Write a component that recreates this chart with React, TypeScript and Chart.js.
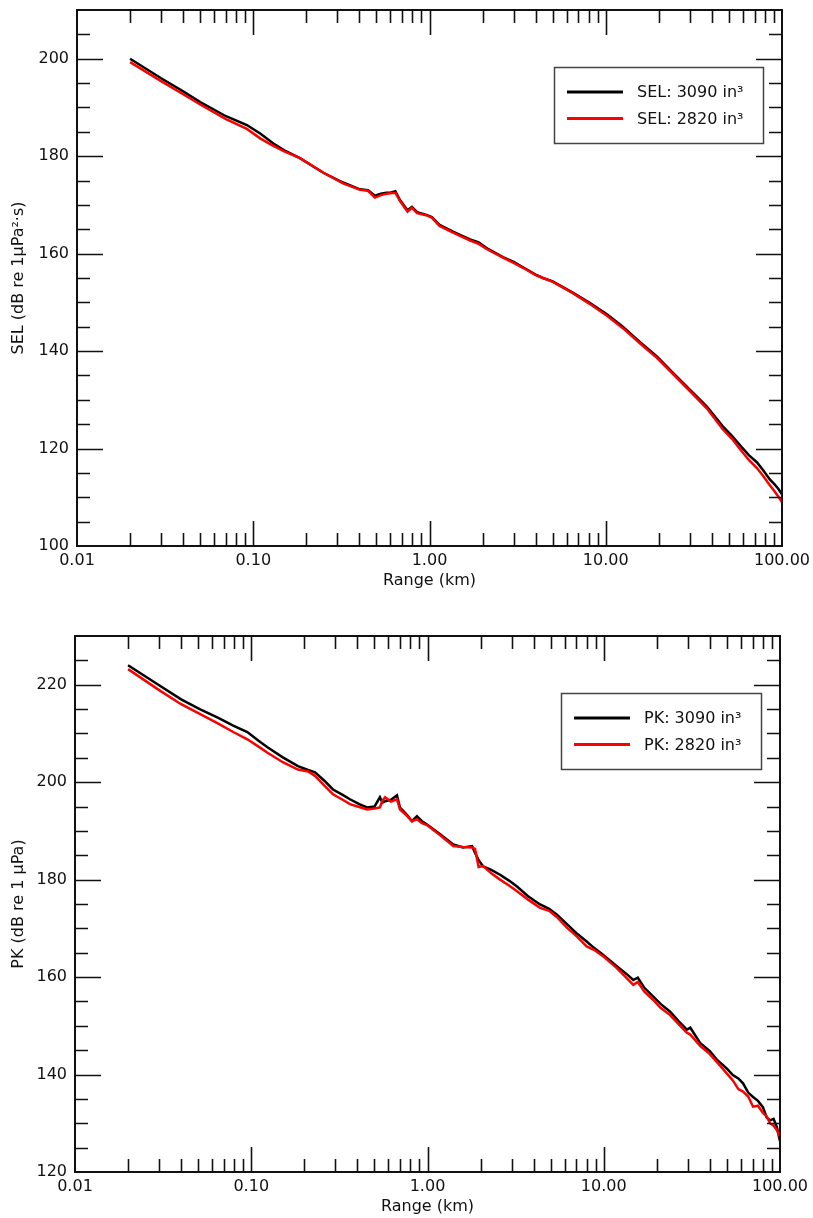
import React, { useEffect, useRef } from 'react';
import { Chart, registerables } from 'chart.js';

Chart.register(...registerables);

// ---------- data ----------
const selRange = [
  0.02, 0.03, 0.04, 0.05, 0.07, 0.092, 0.11, 0.13, 0.15, 0.184, 0.25, 0.323, 0.403, 0.448,
  0.49, 0.53, 0.57, 0.6, 0.64, 0.68, 0.75, 0.795, 0.85, 0.97, 1.03, 1.14, 1.36, 1.5, 1.7,
  1.9, 2.12, 2.61, 3.0, 3.39, 4.0, 4.4, 5.0, 6.5, 8.1, 10.2, 12.5, 15.6, 19.5, 24, 30,
  37.5, 46, 52, 58, 65, 72, 78, 85.5, 90, 95, 100,
];
const sel3090 = [
  200.0, 196.0, 193.3, 191.1, 188.2, 186.4, 184.6, 182.6, 181.2, 179.6, 176.6, 174.6, 173.2, 173.0,
  171.9, 172.3, 172.5, 172.5, 172.8, 171.0, 168.9, 169.6, 168.5, 167.9, 167.5, 165.9, 164.5, 163.8, 162.9,
  162.3, 161.1, 159.3, 158.3, 157.2, 155.7, 155.0, 154.3, 152.0, 149.9, 147.5, 145.0, 141.9, 138.9, 135.6, 132.1,
  128.6, 124.6, 122.6, 120.6, 118.6, 117.2, 115.6, 113.6, 112.8, 111.8, 110.6,
];
const sel2820 = [
  199.3, 195.4, 192.7, 190.6, 187.6, 185.6, 183.6, 182.1, 181.0, 179.6, 176.6, 174.4, 173.1, 172.9,
  171.5, 172.0, 172.3, 172.4, 172.5, 170.8, 168.6, 169.4, 168.3, 167.8, 167.4, 165.7, 164.3, 163.6, 162.7,
  162.0, 160.9, 159.2, 158.1, 157.1, 155.6, 155.0, 154.2, 151.9, 149.7, 147.2, 144.7, 141.6, 138.6, 135.3, 131.8,
  128.2, 124.0, 122.0, 119.8, 117.6, 116.0, 114.4, 112.4, 111.4, 110.2, 109.0,
];

const pkRange = [
  0.02, 0.03, 0.04, 0.051, 0.065, 0.079, 0.095, 0.11, 0.123, 0.151, 0.184, 0.21, 0.23, 0.26,
  0.291, 0.33, 0.363, 0.41, 0.454, 0.5, 0.537, 0.555, 0.575, 0.62, 0.671, 0.698, 0.76, 0.816,
  0.871, 0.93, 0.993, 1.18, 1.4, 1.59, 1.79, 1.86, 1.95, 2.07, 2.3, 2.58, 2.9, 3.22, 3.72,
  4.35, 4.9, 5.43, 6.2, 7.0, 8.0, 8.8, 9.9, 11.9, 13.5, 14.7, 15.6, 17, 19.1, 21, 23.8, 26.5,
  29.6, 31, 35.2, 40, 44, 50, 54, 58, 61.7, 66, 70.3, 75, 80, 84, 87.8, 92, 96, 100,
];
const pk3090 = [
  224.0, 219.9, 217.0, 215.0, 213.2, 211.6, 210.3, 208.5, 207.2, 205.1, 203.3, 202.5, 202.0, 200.3,
  198.5, 197.4, 196.5, 195.5, 194.8, 195.0, 196.9, 195.8, 196.1, 196.4, 197.3, 194.8, 193.4, 192.0,
  193.0, 192.0, 191.3, 189.3, 187.2, 186.6, 186.9, 185.5, 184.0, 182.7, 182.0, 181.0, 179.8, 178.6, 176.6,
  174.9, 174.0, 172.8, 170.8, 169.0, 167.3, 166.0, 164.6, 162.2, 160.6, 159.4, 159.9, 157.8, 156.0, 154.5, 152.9, 151.0,
  149.2, 149.6, 146.5, 144.8, 143.0, 141.2, 139.9, 139.2, 138.2, 136.3, 135.4, 134.6, 133.3, 131.2, 130.6, 130.9, 129.2, 126.3,
];
const pk2820 = [
  223.2, 218.9, 216.0, 214.0, 212.0, 210.3, 208.8, 207.3, 206.1, 204.1, 202.6, 202.2, 201.3, 199.3,
  197.5, 196.4, 195.5, 194.9, 194.4, 194.6, 194.8, 196.2, 196.9, 196.0, 196.5, 194.4, 193.2, 192.0,
  192.4, 191.6, 191.2, 189.1, 186.9, 186.7, 186.6, 186.3, 182.6, 182.8, 181.3, 180.0, 178.8, 177.6, 175.9,
  174.2, 173.6, 172.3, 170.1, 168.4, 166.3, 165.6, 164.3, 161.8, 159.8, 158.4, 159.0, 157.0, 155.3, 153.7, 152.2, 150.4,
  148.6, 148.2, 145.9, 144.2, 142.5, 140.2, 138.8, 137.0, 136.5, 135.5, 133.4, 133.6, 132.1, 131.4, 130.0, 129.5, 128.6, 127.2,
];

const xTickValues = [0.01, 0.1, 1, 10, 100];
const xTickLabels = ['0.01', '0.10', '1.00', '10.00', '100.00'];
const selYTicks = [100, 120, 140, 160, 180, 200];
const pkYTicks = [120, 140, 160, 180, 200, 220];

const FONT = "'DejaVu Sans', sans-serif";

// ---------- plugins ----------
const framePlugin = {
  id: 'frameTicks',
  afterDatasetsDraw(chart: any) {
    const { ctx, chartArea, scales } = chart;
    const { left, right, top, bottom } = chartArea;
    const x = scales.x;
    const y = scales.y;
    ctx.save();
    ctx.strokeStyle = '#111';
    ctx.lineWidth = 1.6;
    ctx.beginPath();
    for (let d = 0.01; d < 150; d *= 10) {
      for (let m = 1; m <= 9; m++) {
        const v = d * m;
        if (v > 100.0001) break;
        const px = Math.round(x.getPixelForValue(v)) + 0.5;
        if (px <= left + 1 || px >= right - 1) continue;
        const len = m === 1 ? 25 : 13;
        ctx.moveTo(px, bottom);
        ctx.lineTo(px, bottom - len);
        ctx.moveTo(px, top);
        ctx.lineTo(px, top + len);
      }
    }
    for (let v = Math.ceil(y.min / 5) * 5; v <= y.max; v += 5) {
      const py = Math.round(y.getPixelForValue(v)) + 0.5;
      if (py <= top + 1 || py >= bottom - 1) continue;
      const len = v % 20 === 0 ? 26 : 13;
      ctx.moveTo(left, py);
      ctx.lineTo(left + len, py);
      ctx.moveTo(right, py);
      ctx.lineTo(right - len, py);
    }
    ctx.stroke();
    ctx.lineWidth = 2;
    ctx.strokeRect(left, top, right - left, bottom - top);
    ctx.restore();
  },
};

const boxLegendPlugin = {
  id: 'boxLegend',
  afterDraw(chart: any) {
    const { ctx, chartArea } = chart;
    const ds = chart.data.datasets;
    ctx.save();
    ctx.font = `16px ${FONT}`;
    let tw = 0;
    ds.forEach((d: any) => {
      tw = Math.max(tw, ctx.measureText(d.label).width);
    });
    const w = Math.round(83 + tw + 20);
    const h = 76;
    const bx = chartArea.right - 19 - w;
    const by = chartArea.top + 57;
    ctx.fillStyle = '#fff';
    ctx.fillRect(bx, by, w, h);
    ctx.strokeStyle = '#444';
    ctx.lineWidth = 1.5;
    ctx.strokeRect(bx + 0.5, by + 0.5, w, h);
    ds.forEach((d: any, i: number) => {
      const ry = by + 25 + i * 26.5;
      ctx.strokeStyle = d.borderColor;
      ctx.lineWidth = 3;
      ctx.beginPath();
      ctx.moveTo(bx + 13, ry);
      ctx.lineTo(bx + 69, ry);
      ctx.stroke();
      ctx.fillStyle = '#111';
      ctx.textBaseline = 'middle';
      ctx.textAlign = 'left';
      ctx.fillText(d.label, bx + 83, ry + 1);
    });
    ctx.restore();
  },
};

// ---------- panel ----------
type PanelProps = {
  range: number[];
  black: number[];
  red: number[];
  blackLabel: string;
  redLabel: string;
  yTitle: string;
  yMin: number;
  yMax: number;
  yTicks: number[];
  top: number;
  height: number;
  yWidth: number;
  padRight: number;
  padBottom: number;
};

function Panel(p: PanelProps) {
  const ref = useRef<HTMLCanvasElement | null>(null);
  useEffect(() => {
    if (!ref.current) return;
    const font = { family: FONT, size: 16 };
    const chart = new Chart(ref.current, {
      type: 'line',
      data: {
        datasets: [
          {
            label: p.blackLabel,
            data: p.range.map((r, i) => ({ x: r, y: p.black[i] })),
            borderColor: '#000000',
            backgroundColor: '#000000',
            borderWidth: 2.5,
            pointRadius: 0,
            tension: 0,
            order: 2,
          },
          {
            label: p.redLabel,
            data: p.range.map((r, i) => ({ x: r, y: p.red[i] })),
            borderColor: '#ff0000',
            backgroundColor: '#ff0000',
            borderWidth: 2.5,
            pointRadius: 0,
            tension: 0,
            order: 1,
          },
        ],
      },
      options: {
        animation: false,
        responsive: false,
        devicePixelRatio: 1,
        layout: { padding: { left: 0, top: 10, right: p.padRight, bottom: p.padBottom } },
        plugins: {
          legend: { display: false },
          tooltip: { enabled: false },
        },
        scales: {
          x: {
            type: 'logarithmic',
            min: 0.01,
            max: 100,
            grid: { display: false, drawTicks: false },
            border: { display: false },
            afterBuildTicks: (s: any) => {
              s.ticks = xTickValues.map((v) => ({ value: v }));
            },
            afterFit: (s: any) => {
              s.height = 44;
              s.paddingLeft = 0;
              s.paddingRight = 0;
            },
            ticks: {
              autoSkip: false,
              maxRotation: 0,
              padding: 5,
              color: '#111',
              font,
              callback: (_v: any, i: number) => xTickLabels[i],
            },
            title: {
              display: true,
              text: 'Range (km)',
              color: '#111',
              font,
              padding: { top: 2, bottom: 0 },
            },
          },
          y: {
            type: 'linear',
            min: p.yMin,
            max: p.yMax,
            grid: { display: false, drawTicks: false },
            border: { display: false },
            afterBuildTicks: (s: any) => {
              s.ticks = p.yTicks.map((v) => ({ value: v }));
            },
            afterFit: (s: any) => {
              s.width = p.yWidth;
              s.paddingTop = 0;
              s.paddingBottom = 0;
            },
            ticks: {
              autoSkip: false,
              padding: 8,
              color: '#111',
              font,
              callback: (v: any) => String(v),
            },
            title: {
              display: true,
              text: p.yTitle,
              color: '#111',
              font,
              padding: { top: 9, bottom: 0 },
            },
          },
        },
      },
      plugins: [framePlugin, boxLegendPlugin],
    } as any);
    return () => chart.destroy();
  }, []);
  return (
    <canvas
      ref={ref}
      width={813}
      height={p.height}
      style={{ position: 'absolute', left: 0, top: p.top, width: 813, height: p.height }}
    />
  );
}

export default function App() {
  return (
    <div
      style={{
        position: 'absolute',
        left: 0,
        top: 0,
        width: 813,
        height: 1218,
        background: '#fff',
        overflow: 'hidden',
      }}
    >
      <Panel
        range={selRange}
        black={sel3090}
        red={sel2820}
        blackLabel="SEL: 3090 in³"
        redLabel="SEL: 2820 in³"
        yTitle="SEL (dB re 1μPa²·s)"
        yMin={100}
        yMax={210}
        yTicks={selYTicks}
        top={0}
        height={600}
        yWidth={77}
        padRight={31}
        padBottom={10}
      />
      <Panel
        range={pkRange}
        black={pk3090}
        red={pk2820}
        blackLabel="PK: 3090 in³"
        redLabel="PK: 2820 in³"
        yTitle="PK (dB re 1 μPa)"
        yMin={120}
        yMax={230}
        yTicks={pkYTicks}
        top={626}
        height={592}
        yWidth={75}
        padRight={33}
        padBottom={2}
      />
    </div>
  );
}
